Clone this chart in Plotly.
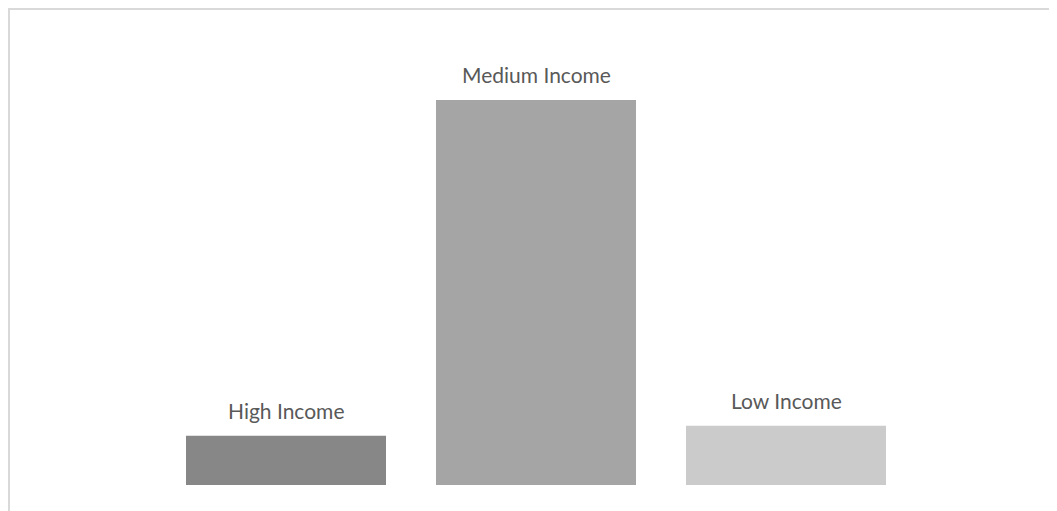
import plotly.graph_objects as go

categories = ["High Income", "Medium Income", "Low Income"]
values = [10, 78, 12]
colors = ["#878787", "#a5a5a5", "#cbcbcb"]

OFF = 8  # page offset of the figure inside the browser window
W, H = 1057 - OFF, 511 - OFF

fig = go.Figure()
fig.add_trace(go.Bar(
    x=categories, y=values,
    marker=dict(color=colors, line=dict(width=0)),
    hoverinfo="skip",
))

for c, v in zip(categories, values):
    fig.add_annotation(
        x=c, y=v, text=c, showarrow=False,
        yanchor="middle", yshift=25,
        font=dict(family="Lato", size=21, color="#595959"),
    )

# chart-area border (top and left visible)
fig.add_shape(
    type="rect", xref="paper", yref="paper",
    x0=1 / W, x1=1.05, y0=-0.05, y1=1 - 1 / H,
    line=dict(color="#d9d9d9", width=2), fillcolor="rgba(0,0,0,0)",
    layer="below",
)

fig.update_layout(
    width=W, height=H,
    margin=dict(l=0, r=0, t=0, b=0),
    paper_bgcolor="white", plot_bgcolor="white",
    showlegend=False,
    bargap=0.2,
    xaxis=dict(domain=[(161 - OFF) / W, (911 - OFF) / W], showticklabels=False,
               showgrid=False, zeroline=False, showline=False, ticks=""),
    yaxis=dict(domain=[(511 - 485) / H, (511 - 90.1) / H], range=[0, 80],
               showticklabels=False, showgrid=False, zeroline=False,
               showline=False, ticks=""),
)

fig.write_html("out.html", config={"displayModeBar": False})
